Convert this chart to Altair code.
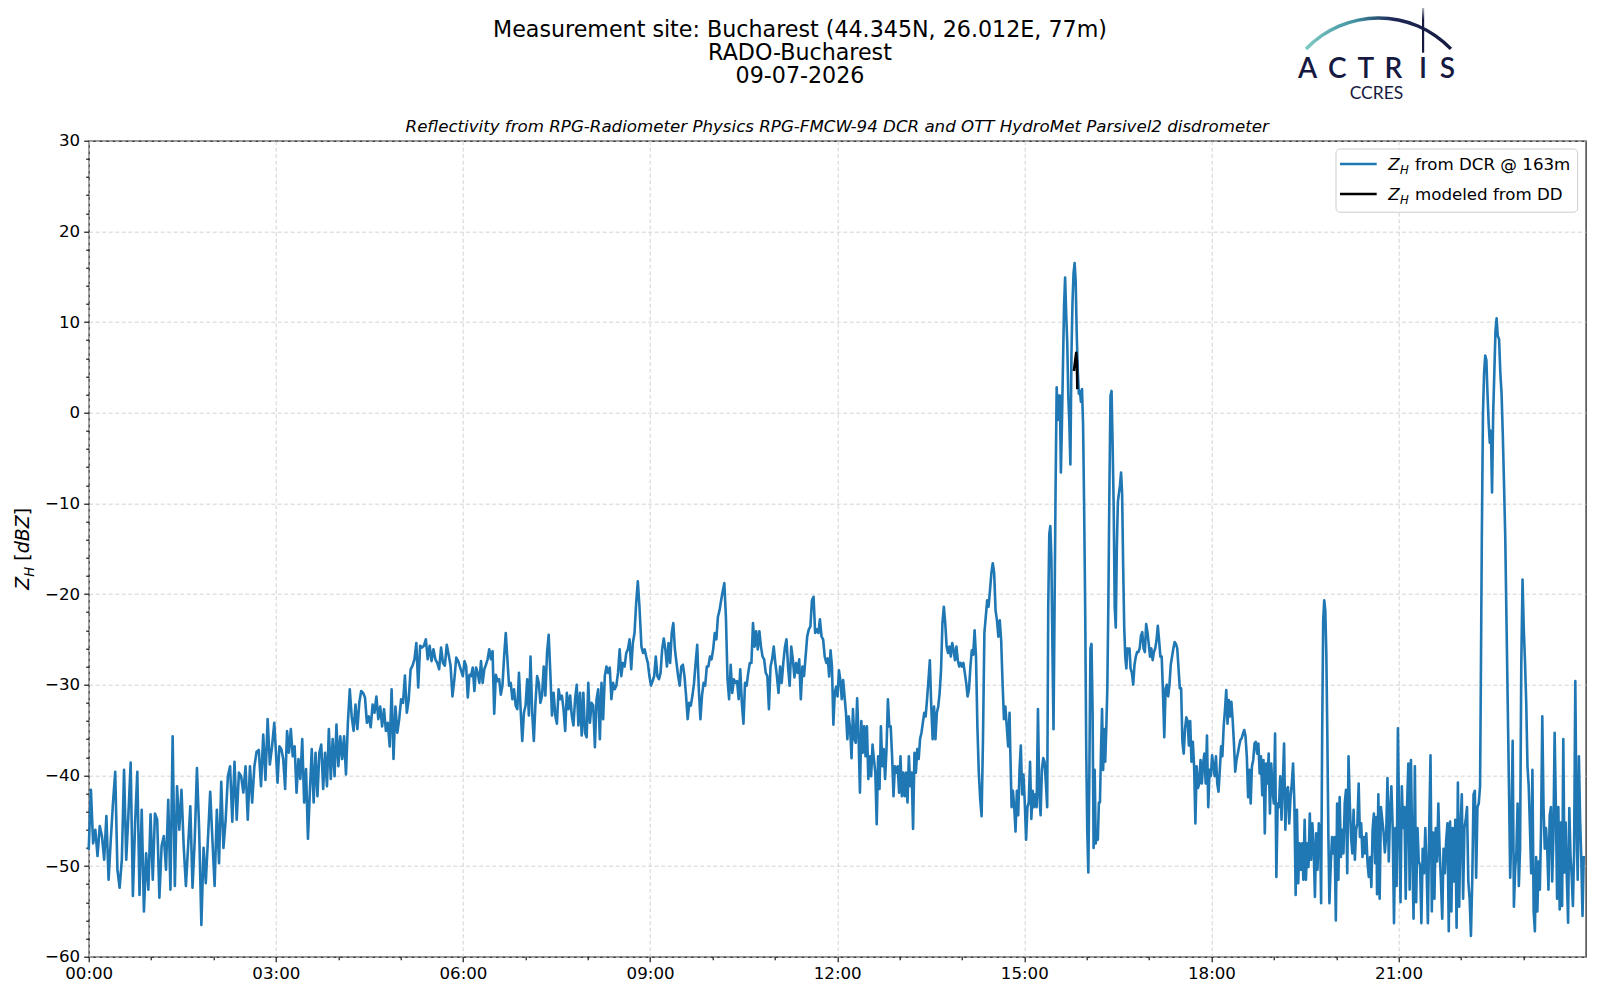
import altair as alt
import numpy as np
import pandas as pd

# ---- Z_H from DCR @ 163m (dBZ), per time span (minutes after 00:00)
seg_a = [-48.2,-41.6,-47.5,-46.0,-48.9,-45.6,-46.7,-49.3,-44.5,-51.5,
         -47.1,-43.0,-39.6,-50.4,-52.4,-49.3,-39.4,-49.3,-44.2,-38.6,
         -53.3,-45.3,-39.6,-53.2,-43.8,-55.0,-48.6,-52.6,-44.3,-51.5,
         -44.2,-44.9,-53.5,-47.8,-46.7,-50.4,-42.7,-52.6,-35.7,-52.2,
         -41.2,-46.0,-41.6,-47.8,-52.2,-47.8,-43.4,-52.4,-47.1,-39.2,
         -46.0,-56.5,-48.0,-51.9,-46.9,-41.8,-47.1,-52.2,-43.8,-49.7,
         -40.7,-48.0,-44.9,-40.1,-39.0,-45.1,-38.5,-44.9,-39.7,-40.1,
         -41.9,-39.0,-44.9,-39.0,-43.0,-39.0,-37.4,-37.2,-41.2,-35.5,
         -40.5,-33.8,-38.8,-36.8,-34.2]
seg_b = [-36.8,-40.8,-36.8,-37.1,-38.2,-41.5,-35.1,-37.5,-34.9,-37.9,
         -36.8,-41.9,-38.2,-40.4,-36.0,-43.0,-39.3,-47.0,-41.9,-37.1,
         -43.0,-37.5,-42.3,-37.5,-36.6,-41.5,-37.5,-41.2,-34.9,-40.4,
         -36.0,-40.1,-34.4,-39.0,-35.7,-38.2,-35.7,-39.9,-34.2,-30.5,
         -33.5,-35.1,-32.2,-34.9,-32.0,-30.7,-30.9,-31.4,-34.2,-33.5,
         -34.7,-32.2,-33.1,-31.3,-33.8,-32.4,-34.6,-32.7,-35.1,-34.2,
         -36.8,-30.5,-38.2,-32.4,-35.3,-33.8,-31.6,-32.0,-29.0,-33.1,
         -31.6,-28.3,-27.9,-27.2,-25.4,-30.3,-25.7,-25.9,-25.7,-25.0,
         -27.2,-25.7,-27.4,-26.1,-27.2,-27.6,-28.3,-25.9,-27.6,-27.9,
         -25.6,-26.7,-27.9,-31.3,-29.4,-27.0,-27.4]
seg_c = [-29.05,-27.4,-27.96,-31.4,-28.9,-29.05,-28.1,-30.7,-28.1,-28.7,
         -29.8,-27.4,-29.8,-28.3,-27.8,-27.2,-26.1,-27.2,-26.3,-33.2,
         -28.9,-29.6,-29.4,-31.1,-30.1,-26.9,-24.3,-27.2,-30.1,-29.8,
         -31.6,-30.5,-32.3,-32.7,-28.7,-32.7,-36.2,-33.1,-32.3,-29.4,
         -33.4,-26.9,-33.1,-36.2,-32.0,-29.05,-29.8,-32.0,-31.2,-28.0,
         -31.2,-26.5,-24.5,-28.7,-33.4,-30.9,-33.4,-34.3,-30.5,-31.6,
         -31.2,-32.7,-35.1,-30.9,-32.7,-31.2,-33.4,-34.5,-31.6,-30.0,
         -34.5,-30.9,-35.6,-30.9,-35.3,-35.8,-29.8,-34.2,-32.0,-32.3,
         -36.9,-31.6,-30.5,-36.0,-29.8,-33.8,-29.05,-28.0,-28.7,-28.1,
         -31.6,-29.8,-30.5,-30.1,-28.7,-26.1,-29.05,-27.6,-28.0,-26.5,
         -26.1,-25.0,-28.3,-25.4,-24.3,-21.0,-18.6,-21.4]
seg_d = [-25.8,-26.5,-26.1,-26.9,-27.6,-29.05,-30.1,-29.6,-29.05,-26.9,
         -29.05,-29.4,-28.7,-26.1,-24.9,-26.1,-28.0,-25.4,-27.6,-24.3,
         -23.2,-26.1,-27.6,-29.05,-30.1,-28.0,-27.8,-29.05,-31.2,-33.8,
         -32.0,-32.3,-31.2,-29.8,-27.6,-25.6,-30.5,-33.8,-31.2,-29.8,
         -30.1,-28.0,-28.0,-26.9,-27.2,-26.1,-24.3,-25.0,-22.5,-21.8,
         -20.7,-19.7,-18.8,-22.5,-29.4,-31.6,-27.8,-30.9,-29.4,-29.8,
         -29.6,-31.6,-28.3,-32.0,-34.3,-29.8,-30.1,-28.7,-27.6,-27.6,
         -23.2,-25.8,-24.1,-26.1,-24.1,-25.8,-26.9,-27.2,-28.7,-29.05,
         -32.7,-28.0,-27.2,-25.8,-27.6,-29.05,-30.9,-28.0,-29.8,-27.6,
         -25.9,-25.0,-28.0,-30.1,-25.8,-27.2,-29.2,-27.6,-28.7,-27.2,
         -31.6,-28.0,-29.05,-26.9,-24.7,-23.9,-23.6,-20.7,-20.3,-24.3,
         -23.9,-24.3,-22.8,-24.7,-25.0,-26.9]
seg_e = [-27.6,-27.1,-29.1,-26.2,-28.0,-34.4,-30.9,-30.2,-31.3,-28.4,
         -29.5,-31.6,-29.5,-31.3,-33.1,-36.0,-33.5,-34.9,-38.1,-32.7,
         -36.0,-36.4,-31.5,-35.7,-41.9,-34.0,-37.5,-34.6,-37.9,-34.6,
         -40.4,-37.9,-40.1,-36.6,-38.2,-39.7,-45.4,-37.9,-41.5,-34.6,
         -39.0,-37.1,-40.4,-37.1,-31.6,-34.6,-34.6,-37.9,-42.3,-39.0,
         -39.7,-39.0,-41.9,-37.9,-42.3,-39.7,-42.3,-39.7,-43.0,-37.9,
         -41.2,-39.7,-45.9,-37.5,-39.7,-37.1,-38.2,-36.0,-35.3,-34.2,
         -33.1,-33.5,-31.6,-29.5,-27.3,-32.4,-36.0,-32.4,-36.0,-33.1,
         -32.4,-30.9,-28.4,-23.2,-21.4,-23.2,-25.8,-26.5,-25.8,-26.9,
         -25.4,-26.2,-27.3,-25.8,-27.3,-28.0,-27.6,-28.0,-27.6,-28.7,
         -29.8,-31.3,-30.5,-28.0,-26.2,-26.7,-24.0,-26.9,-34.6,-39.7,
         -42.6,-44.5,-36.0,-24.3,-22.5,-20.7,-21.4,-19.6,-17.7,-16.6,
         -17.7,-21.8,-22.9,-24.7,-22.9,-25.1,-29.8,-33.8,-32.4,-34.6,
         -36.8,-33.1]
seg_f1 = [-37.2,-43.5,-41.7,-43.5,-46.2,-41.7,-44.4,-39.4,-36.7,-42.1,
          -39.9,-43.0,-47.1,-43.5,-43.0,-38.5,-44.8,-41.7,-43.5,-42.1,
          -43.5,-32.7,-42.1,-44.4,-39.4,-38.1,-38.5,-40.8,-43.5]
seg_f2 = [-21.5,-13.4,-12.5,-16.1,-26.0,-34.9,-21.5,-8.0,2.8,-0.8,
          1.9,1.9,-6.6,-1.2,5.5,11.8,14.9,10.9,7.8,1.9,
          -1.2,-5.7,6.4,12.2,15.4,16.5,14.5,8.7,4.6,2.1,
          2.4,1.2,2.6,-1.2,-10.2,-21.5,-37.2,-46.2,-50.7,-39.4,
          -26.0,-25.5,-32.7,-48.0,-39.4,-47.5,-46.2,-47.1,-43.0,-43.0,
          -37.2,-32.7,-39.4,-34.9,-38.5,-34.9,-30.4,-20.6,-8.0,1.9,
          2.4,-3.5,-10.2,-21.5,-23.7,-14.7,-9.8,-8.9,-8.0,-6.6,
          -8.9,-17.0,-23.7,-26.9,-28.2,-26.0,-26.4,-26.0,-28.2]
seg_f3 = [-28.7,-30.0,-27.8,-26.9,-26.4,-26.4,-26.0,-24.6,-24.2,-26.0,
          -26.4,-23.3,-24.2,-25.5,-26.9,-26.0,-27.3,-26.4,-26.0,-25.1,
          -23.5,-25.1,-26.9,-26.9,-30.9,-35.8,-30.4,-30.0,-31.3,-30.0,
          -27.8,-26.9,-26.0,-25.3,-25.5,-26.0,-28.2,-30.4,-30.4,-36.3,
          -37.6,-34.9,-33.6,-34.0,-36.7,-34.0,-38.5]
seg_g1 = [-36.3,-39.0,-45.3,-39.0,-41.4,-40.9,-38.3,-40.9,-38.7,-37.6,
          -40.9,-35.6,-43.5,-39.4,-40.1,-37.8,-39.0,-40.1,-37.9,-40.9,
          -41.8,-39.4,-36.8,-37.9,-34.6,-32.8,-30.6,-34.3,-31.7,-33.5,
          -31.9,-33.9,-36.5,-39.6,-38.3,-37.6,-36.8,-36.1,-35.9,-35.4,
          -35.0,-35.7,-37.9,-42.4,-39.4,-43.1,-39.0,-38.3,-36.5,-36.3,
          -37.6,-36.5,-39.8,-37.9,-42.2,-38.3,-46.4,-38.7,-40.9,-37.6,
          -44.2,-38.7,-41.6,-43.1,-35.4,-51.2,-43.1,-43.5,-40.1,-44.9,
          -40.9,-36.5,-46.0,-41.6,-41.3,-45.3,-42.4,-40.9,-38.7,-43.1,
          -53.2,-43.8,-51.9,-47.5,-50.4,-47.5,-51.5,-44.9,-51.5,-47.5,
          -50.1,-44.2,-49.3,-45.3,-47.9,-53.4,-46.4,-50.4,-45.3,-46.0]
seg_g2 = [-54.1,-35.7,-22.9,-20.7,-21.8,-26.5,-35.7,-46.8,-54.1]
seg_g3 = [-49.7,-46.8,-48.6,-46.8,-56.0,-43.1,-51.5,-42.4,-49.0,-46.0,
          -48.6,-43.1,-41.6,-50.8,-37.9,-43.1,-46.8,-48.6,-43.8,-49.3,
          -46.0,-45.3,-40.9,-46.8,-45.3,-49.0,-46.8,-48.6,-46.4,-49.7,
          -51.2,-49.0,-52.3,-46.0,-44.2,-49.7,-44.6]
seg_h1 = [-53.1,-42.1,-53.6,-43.5,-44.9,-46.3,-48.5,-46.7,-40.3,-49.5,
          -44.0,-41.2,-45.8,-56.3,-45.8,-52.2,-34.8,-45.8,-54.0,-41.2,
          -45.8,-43.5,-53.6,-43.5,-38.7,-52.6,-38.3,-48.1,-55.8,-39.0,
          -54.0,-45.8,-49.5,-49.9,-56.3,-48.1,-50.8,-45.8,-50.4,-56.3,
          -45.8,-37.8,-55.0,-46.3,-53.6,-45.8,-49.5,-43.1,-48.3,-51.7,
          -55.8,-48.1,-50.8,-47.2,-45.3,-57.2,-45.1,-55.0,-45.8,-51.7,
          -44.9,-56.8,-40.8,-54.5,-45.8,-42.1,-53.6,-45.8,-44.9,-43.5,
          -51.7,-53.6,-57.7,-51.7,-42.1,-41.7,-51.3,-43.5,-43.1,-41.2]
seg_h2 = [-32.1,-13.8,-0.1,4.4,6.3,5.8,2.1,-1.1,-3.3,-2.0,
          -8.8,-0.1,4.4,9.0,10.4,8.5]
seg_h3 = [8.1,4.4,2.1,-2.4,-7.9,-13.8,-23.0,-32.1,-41.2,-51.3,
          -45.8,-36.2,-54.5,-50.4,-48.5,-43.1,-52.2,-48.1,-27.5,-18.4,
          -23.9,-27.5,-32.1,-39.0,-41.2,-45.8,-50.8,-39.4,-55.0,-57.2,
          -49.0,-55.0,-49.5,-52.6,-45.8,-33.5,-43.5,-48.1,-45.8,-48.1,
          -52.6,-44.4,-43.5,-51.7,-46.7,-35.3,-43.5,-53.6,-43.5]
seg_i = [-54.8,-45.2,-54.4,-36.0,-50.7,-45.2,-51.5,-56.25,-43.6,-48.9,
         -51.1,-54.4,-48.5,-29.6,-44.9,-51.5,-37.9,-44.9,-49.3,-55.5,-48.9]

# (start minute, end minute, values) of each regularly sampled span
spans = [(0.0, 178.5, seg_a), (179.8, 355.4, seg_b), (359.9, 529.8, seg_c),
         (531.7, 708.0, seg_d), (709.6, 885.8, seg_e), (886.5, 922.0, seg_f1),
         (923.0, 1002.2, seg_f2), (1003.5, 1060.8, seg_f3), (1062.1, 1184.5, seg_g1),
         (1185.5, 1193.5, seg_g2), (1194.8, 1238.7, seg_g3), (1239.3, 1338.4, seg_h1),
         (1339.0, 1355.4, seg_h2), (1356.7, 1413.7, seg_h3), (1415.0, 1438.1, seg_i)]

# ---- Z_H modeled from DD
dd_minutes = [947.7, 949.9, 950.6, 951.0]
dd_values = [4.6, 6.6, 5.5, 2.6]

x_major = [0, 180, 360, 540, 720, 900, 1080, 1260]
x_minor = [60, 120, 240, 300, 420, 480, 600, 660, 780, 840, 960, 1020, 1140, 1200, 1320, 1380]
y_major = [-60, -50, -40, -30, -20, -10, 0, 10, 20, 30]
y_minor = [v for v in range(-58, 30, 2) if v % 10 != 0]

title_lines = ["Measurement site: Bucharest (44.345N, 26.012E, 77m)", "RADO-Bucharest", "09-07-2026"]
subtitle = "Reflectivity from RPG-Radiometer Physics RPG-FMCW-94 DCR and OTT HydroMet Parsivel2 disdrometer"
legend_labels = ["from DCR @ 163m", "modeled from DD"]

ts, vs = [], []
for t0, t1, vals in spans:
    ts.extend(np.linspace(t0, t1, len(vals)).tolist())
    vs.extend(vals)
df = pd.DataFrame({"t": ts, "z": vs})
dd = pd.DataFrame({"t": dd_minutes, "z": dd_values})
one = pd.DataFrame({"k": [0]})

FONT = "DejaVu Sans"
BLUE = "#1f77b4"
NAVY = "#161a40"
W, H = 1497, 816

xs = alt.Scale(domain=[0, 1440], nice=False, zero=False)
ys = alt.Scale(domain=[-60, 30], nice=False, zero=False)

x_axis = alt.Axis(values=x_major, orient="bottom", title=None, grid=True, domain=False,
                  labelExpr="(datum.value < 600 ? '0' : '') + floor(datum.value / 60) + ':00'",
                  tickSize=5, labelPadding=4, labelFlush=False, labelOverlap=False)
y_axis = alt.Axis(values=y_major, orient="left", title=None, grid=True, domain=False, format="d",
                  tickSize=5, labelPadding=4, labelFlush=False, labelOverlap=False)
x_axis_minor = alt.Axis(values=x_minor, orient="bottom", title=None, grid=False, domain=False,
                        labels=False, tickSize=3)
y_axis_minor = alt.Axis(values=y_minor, orient="left", title=None, grid=False, domain=False,
                        labels=False, tickSize=3)

minor = alt.Chart(one).mark_point(opacity=0).encode(
    x=alt.X("k:Q", scale=xs, axis=x_axis_minor),
    y=alt.Y("k:Q", scale=ys, axis=y_axis_minor),
)

main = alt.Chart(df).mark_line(color=BLUE, strokeWidth=2.6, strokeJoin="round").encode(
    x=alt.X("t:Q", scale=xs, axis=x_axis),
    y=alt.Y("z:Q", scale=ys, axis=y_axis),
    order="t:Q",
)

ddline = alt.Chart(dd).mark_line(color="black", strokeWidth=2.6, strokeJoin="round").encode(
    x=alt.X("t:Q", scale=xs, axis=None),
    y=alt.Y("z:Q", scale=ys, axis=None),
)


def txt(s, x, y, size, **kw):
    props = dict(text=s, fontSize=size, font=FONT, color="black")
    props.update(kw)
    return alt.Chart(one).mark_text(**props).encode(x=alt.value(x), y=alt.value(y))


layers = [minor, main, ddline]

# suptitle and axes title
for i, line in enumerate(title_lines):
    layers.append(txt(line, 711.3, -104.0 + 23.2 * i, 22.2, align="center", baseline="alphabetic"))
layers.append(txt(subtitle, W / 2, -9, 16.67, align="center", baseline="alphabetic", fontStyle="italic"))

# y axis label  Z_H [dBZ]
layers.append(txt("Z", -60, 449, 19, angle=270, align="left", baseline="alphabetic", fontStyle="italic"))
layers.append(txt("H", -55, 436, 13.3, angle=270, align="left", baseline="alphabetic", fontStyle="italic"))
layers.append(txt("[", -60, 420, 19, angle=270, align="left", baseline="alphabetic"))
layers.append(txt("dBZ", -60, 412.6, 19, angle=270, align="left", baseline="alphabetic", fontStyle="italic"))
layers.append(txt("]", -60, 374.6, 19, angle=270, align="left", baseline="alphabetic"))

# legend
layers.append(alt.Chart(one).mark_rect(cornerRadius=4, fill="white", fillOpacity=0.8,
                                       stroke="#cccccc", strokeWidth=1).encode(
    x=alt.value(1247.3), x2=alt.value(1489), y=alt.value(8.3), y2=alt.value(71.5)))
for i, (col, lab) in enumerate(zip([BLUE, "black"], legend_labels)):
    yy = 23.3 + 30 * i
    layers.append(alt.Chart(one).mark_rule(color=col, strokeWidth=2.6).encode(
        x=alt.value(1251.3), x2=alt.value(1288), y=alt.value(yy)))
    layers.append(txt("Z", 1299.6, yy + 6, 16.67, align="left", baseline="alphabetic", fontStyle="italic"))
    layers.append(txt("H", 1311.2, yy + 10, 11.7, align="left", baseline="alphabetic", fontStyle="italic"))
    layers.append(txt(lab, 1326.3, yy + 6, 16.67, align="left", baseline="alphabetic"))

# ACTRIS / CCRES logo
grad_arc = {"gradient": "linear", "x1": 0, "y1": 0, "x2": 1, "y2": 0,
            "stops": [{"offset": 0, "color": "#7fcbc4"}, {"offset": 0.35, "color": "#3f8f9f"},
                      {"offset": 0.6, "color": "#1e2856"}, {"offset": 1, "color": NAVY}]}
layers.append(alt.Chart(one).mark_arc(innerRadius=98.6, outerRadius=102.0, theta=5.475, theta2=7.09,
                                      fill=grad_arc).encode(x=alt.value(1289.8), y=alt.value(-22.4)))
grad_bar = {"gradient": "linear", "x1": 0, "y1": 0, "x2": 0, "y2": 1,
            "stops": [{"offset": 0, "color": "#ffffff"}, {"offset": 0.35, "color": NAVY},
                      {"offset": 1, "color": NAVY}]}
layers.append(alt.Chart(one).mark_rect(fill=grad_bar).encode(
    x=alt.value(1333.3), x2=alt.value(1335.5), y=alt.value(-138.7), y2=alt.value(-88)))
for letter, cx in zip("ACTRIS", [1218.8, 1248.6, 1277.1, 1304.6, 1334.3, 1358.8]):
    layers.append(txt(letter, cx, -63.0, 28, align="center", baseline="alphabetic", font="Lato",
                      color=NAVY, fontWeight=600))
layers.append(txt("CCRES", 1287.8, -41.7, 17.5, align="center", baseline="alphabetic", font="Lato", color=NAVY))

chart = alt.layer(*layers).resolve_axis(x="independent", y="independent").properties(
    width=W, height=H, autosize="none",
    padding={"left": 80.7, "top": 132.7, "right": 4, "bottom": 30},
).configure(font=FONT).configure_view(stroke="black", strokeWidth=1.1).configure_axis(
    labelFont=FONT, labelFontSize=16.67, labelColor="black", tickColor="black", tickWidth=1.1,
    gridColor="#d3d3d3", gridDash=[4, 2.5], gridWidth=1,
)

chart.save("out.html", embed_options={"renderer": "svg", "actions": False})
